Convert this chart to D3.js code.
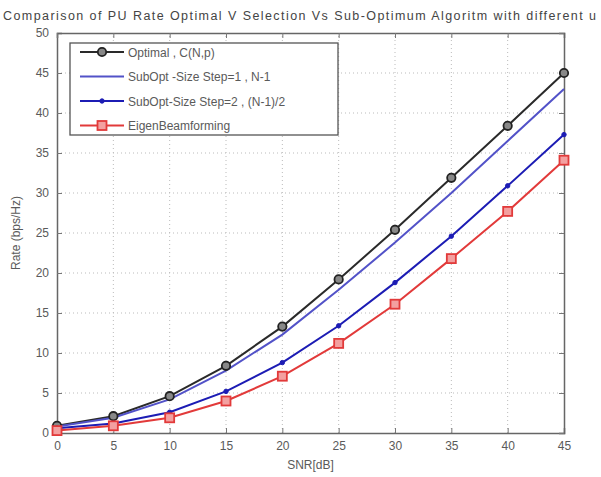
<!DOCTYPE html>
<html>
<head>
<meta charset="utf-8">
<script src="https://cdn.jsdelivr.net/npm/d3@7"></script>
<style>
  html, body { margin: 0; padding: 0; background: #fff; }
  svg { display: block; font-family: "Liberation Sans", Arial, sans-serif; }
</style>
</head>
<body>
<svg id="chart" width="601" height="477"></svg>
<script>
const snr = [0, 5, 10, 15, 20, 25, 30, 35, 40, 45];
const optimal = [0.9, 2.1, 4.6, 8.4, 13.3, 19.2, 25.4, 31.9, 38.4, 45.0];
const subOpt1 = [0.8, 1.9, 4.2, 7.8, 12.3, 17.9, 23.8, 30.0, 36.5, 43.0];
const subOpt2 = [0.6, 1.2, 2.6, 5.2, 8.8, 13.4, 18.8, 24.6, 30.9, 37.3];
const eigen = [0.3, 0.9, 1.9, 4.0, 7.1, 11.2, 16.1, 21.8, 27.7, 34.1];
const xTicks = [0, 5, 10, 15, 20, 25, 30, 35, 40, 45];
const yTicks = [0, 5, 10, 15, 20, 25, 30, 35, 40, 45, 50];
const seriesNames = ["Optimal , C(N,p)", "SubOpt -Size Step=1 , N-1", "SubOpt-Size Step=2 , (N-1)/2", "EigenBeamforming"];
const titleText = "Comparison of PU Rate Optimal V Selection Vs Sub-Optimum Algoritm with different u";
const xLabel = "SNR[dB]";
const yLabel = "Rate (bps/Hz)";

const svg = d3.select("#chart");
const m = { left: 57, right: 37, top: 33, bottom: 44 };
const W = 601, H = 477;
const x = d3.scaleLinear().domain([0, 45]).range([m.left, W - m.right]);
const y = d3.scaleLinear().domain([0, 50]).range([H - m.bottom, m.top]);
const textCol = "#5a5a5a";

// grid
const grid = svg.append("g");
grid.selectAll(".gx").data(xTicks.slice(1, -1)).join("line")
  .attr("x1", d => x(d)).attr("x2", d => x(d))
  .attr("y1", y(0)).attr("y2", y(50))
  .attr("stroke", "#bbb").attr("stroke-width", 1).attr("stroke-dasharray", "1,3");
grid.selectAll(".gy").data(yTicks.slice(1, -1)).join("line")
  .attr("x1", x(0)).attr("x2", x(45))
  .attr("y1", d => y(d)).attr("y2", d => y(d))
  .attr("stroke", "#bbb").attr("stroke-width", 1).attr("stroke-dasharray", "1,3");

// axes
const xAxis = d3.axisBottom(x).tickValues(xTicks).tickSize(-5).tickPadding(8);
const yAxis = d3.axisLeft(y).tickValues(yTicks).tickSize(-5).tickPadding(8);
const gx = svg.append("g").attr("transform", `translate(0,${y(0)})`).call(xAxis);
const gy = svg.append("g").attr("transform", `translate(${x(0)},0)`).call(yAxis);
const gxTop = svg.append("g").attr("transform", `translate(0,${y(50)})`).call(d3.axisTop(x).tickValues(xTicks).tickSize(-5).tickFormat(""));
const gyRight = svg.append("g").attr("transform", `translate(${x(45)},0)`).call(d3.axisRight(y).tickValues(yTicks).tickSize(-5).tickFormat(""));
[gx, gy, gxTop, gyRight].forEach(g => {
  g.select(".domain").attr("stroke", "#666").attr("stroke-width", 1.5);
  g.selectAll(".tick line").attr("stroke", "#777");
  g.selectAll(".tick text").attr("fill", textCol).style("font-size", "12px")
    .style("font-family", "'Liberation Sans', Arial, sans-serif");
});

// series
const colors = ["#2a2a2a", "#5252c8", "#1c1cb4", "#e23a3a"];
const allSeries = [optimal, subOpt1, subOpt2, eigen];
const line = d3.line().x((d, i) => x(snr[i])).y(d => y(d));
allSeries.forEach((s, k) => {
  svg.append("path").datum(s).attr("d", line)
    .attr("fill", "none").attr("stroke", colors[k]).attr("stroke-width", 2);
});
function marker(g, k, cx, cy) {
  if (k === 0) {
    g.append("circle").attr("cx", cx).attr("cy", cy).attr("r", 4.2)
      .attr("fill", "#888").attr("stroke", "#222").attr("stroke-width", 1.8);
  } else if (k === 2) {
    g.append("circle").attr("cx", cx).attr("cy", cy).attr("r", 2.2)
      .attr("fill", "#1c1cb4").attr("stroke", "#1c1cb4");
  } else if (k === 3) {
    g.append("rect").attr("x", cx - 4.5).attr("y", cy - 4.5).attr("width", 9).attr("height", 9)
      .attr("fill", "#f3a0a0").attr("stroke", "#e23a3a").attr("stroke-width", 1.8);
  }
}
const mg = svg.append("g");
allSeries.forEach((s, k) => {
  s.forEach((v, i) => marker(mg, k, x(snr[i]), y(v)));
});

// legend
const lg = svg.append("g");
lg.append("rect").attr("x", 70).attr("y", 43).attr("width", 268).attr("height", 92)
  .attr("fill", "#fff").attr("stroke", "#555").attr("stroke-width", 1.3);
seriesNames.forEach((name, k) => {
  const ly = 52 + k * 24.5;
  lg.append("line").attr("x1", 80).attr("x2", 124).attr("y1", ly).attr("y2", ly)
    .attr("stroke", colors[k]).attr("stroke-width", 2);
  marker(lg, k, 102, ly);
  lg.append("text").attr("x", 128).attr("y", ly + 4.5).text(name)
    .attr("fill", textCol).style("font-size", "12px");
});

// labels
svg.append("text").attr("x", 3).attr("y", 20).text(titleText)
  .attr("textLength", 593).attr("lengthAdjust", "spacing")
  .attr("fill", "#444").style("font-size", "12.5px");
svg.append("text").attr("x", x(22.5)).attr("y", 469).attr("text-anchor", "middle")
  .text(xLabel).attr("fill", textCol).style("font-size", "12px");
svg.append("text").attr("transform", `translate(20,${y(25)}) rotate(-90)`)
  .attr("text-anchor", "middle").text(yLabel).attr("fill", textCol).style("font-size", "12px");
</script>
</body>
</html>
